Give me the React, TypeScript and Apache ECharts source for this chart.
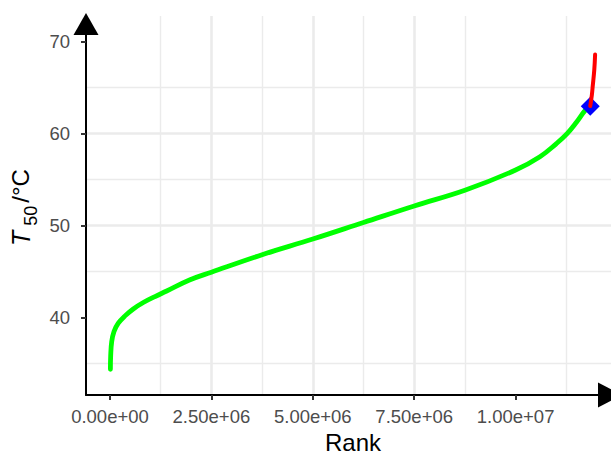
import React, { useEffect, useRef } from "react";
import * as echarts from "echarts";

// ---- data ----
const greenCurve: [number, number][] = [
  [10000, 34.4],
  [17000, 35.9],
  [42000, 37.4],
  [99000, 38.5],
  [205000, 39.4],
  [370000, 40.2],
  [574000, 40.95],
  [821000, 41.65],
  [1109000, 42.3],
  [1398000, 42.9],
  [1960000, 44.1],
  [2500000, 44.95],
  [3750000, 46.85],
  [5000000, 48.55],
  [6250000, 50.35],
  [7500000, 52.15],
  [8750000, 53.85],
  [10000000, 56.05],
  [10600000, 57.5],
  [11000000, 58.9],
  [11270000, 60.0],
  [11510000, 61.3],
  [11710000, 62.5],
  [11840000, 63.0],
];
const redCurve: [number, number][] = [
  [11840000, 63.0],
  [11880000, 64.2],
  [11900000, 65.1],
  [11940000, 66.95],
  [11960000, 68.6],
];
const markerPoint: [number, number][] = [[11840000, 62.98]];

const xTicks = [0, 2500000, 5000000, 7500000, 10000000];
const yTicks = [40, 50, 60, 70];
const xRange = [-591700, 12352000];
const yRange = [31.6, 72.79];

function sci(v: number): string {
  if (v === 0) return "0.00e+00";
  const e = Math.floor(Math.log10(Math.abs(v)) + 1e-9);
  const m = v / Math.pow(10, e);
  return m.toFixed(2) + "e" + (e < 0 ? "-" : "+") + String(Math.abs(e)).padStart(2, "0");
}

const FONT = "'Liberation Sans', Arial, Helvetica, sans-serif";

export default function App() {
  const ref = useRef<HTMLDivElement>(null);
  useEffect(() => {
    if (!ref.current) return;
    const chart = echarts.init(ref.current, null, { renderer: "svg" });
    const axisCommon = {
      type: "value" as const,
      axisLine: {
        show: true,
        onZero: false,
        lineStyle: { color: "#000000", width: 2 },
      },
      axisTick: {
        show: true,
        inside: false,
        length: 5,
        lineStyle: { color: "#333333", width: 2 },
      },
      splitLine: {
        show: true,
        showMinLine: false,
        showMaxLine: false,
        lineStyle: { color: "#EBEBEB", width: 2.6 },
      },
      minorTick: { show: false, splitNumber: 2 },
      minorSplitLine: {
        show: true,
        lineStyle: { color: "#EBEBEB", width: 1.4 },
      },
    };
    chart.setOption({
      animation: false,
      backgroundColor: "#ffffff",
      grid: {
        left: 86,
        right: 0,
        top: 16,
        bottom: 60,
        containLabel: false,
        outerBoundsMode: "none",
      },
      xAxis: {
        ...axisCommon,
        min: xRange[0],
        max: xRange[1],
        minInterval: 2500000,
        maxInterval: 2500000,
        axisLine: {
          ...axisCommon.axisLine,
          symbol: ["none", "triangle"],
          symbolSize: [25, 24],
          symbolOffset: [0, -1],
        },
        axisTick: { ...axisCommon.axisTick, customValues: xTicks },
        axisLabel: {
          customValues: xTicks,
          formatter: (v: number) => sci(v),
          color: "#4D4D4D",
          fontSize: 18.5,
          fontFamily: FONT,
          margin: 12,
        },
        name: "Rank",
        nameLocation: "middle",
        nameGap: 36,
        nameTextStyle: {
          color: "#000000",
          fontSize: 24,
          fontFamily: FONT,
          lineHeight: 20,
          padding: [0, 0, 0, 9],
        },
      },
      yAxis: {
        ...axisCommon,
        min: yRange[0],
        max: yRange[1],
        minInterval: 10,
        maxInterval: 10,
        axisLine: {
          ...axisCommon.axisLine,
          symbol: ["none", "triangle"],
          symbolSize: [25, 22],
          symbolOffset: [0, -8],
        },
        axisTick: { ...axisCommon.axisTick, customValues: yTicks },
        axisLabel: {
          customValues: yTicks,
          color: "#4D4D4D",
          fontSize: 18.5,
          fontFamily: FONT,
          margin: 16,
        },
      },
      graphic: [
        {
          type: "text",
          x: 20.5,
          y: 207.5,
          rotation: Math.PI / 2,
          silent: true,
          style: {
            text: "{t|T}{s|50}{u|/°C}",
            align: "center",
            verticalAlign: "middle",
            fill: "#000000",
            fontFamily: FONT,
            fontSize: 24,
            rich: {
              t: {
                fontStyle: "italic",
                fontSize: 25,
                fontFamily: FONT,
                lineHeight: 38,
                padding: [0, 5, 0, 0],
                fill: "#000000",
              },
              s: {
                fontSize: 18,
                fontFamily: FONT,
                lineHeight: 18,
                verticalAlign: "bottom",
                padding: [0, 3, 0, 0],
                fill: "#000000",
              },
              u: {
                fontSize: 24,
                fontFamily: FONT,
                lineHeight: 38,
                fill: "#000000",
              },
            },
          },
        },
      ],
      series: [
        {
          type: "line",
          data: greenCurve,
          showSymbol: false,
          smooth: 0.4,
          z: 2,
          lineStyle: { color: "#00FF00", width: 4.8, cap: "round", join: "round" },
        },
        {
          type: "scatter",
          data: markerPoint,
          symbol: "diamond",
          symbolSize: 19,
          z: 3,
          itemStyle: { color: "#0000FF", opacity: 1 },
        },
        {
          type: "line",
          data: redCurve,
          showSymbol: false,
          smooth: 0.4,
          z: 4,
          lineStyle: { color: "#FF0000", width: 4, cap: "round", join: "round" },
        },
      ],
    });
    return () => chart.dispose();
  }, []);
  return (
    <div
      ref={ref}
      style={{ position: "fixed", left: 0, top: 0, width: 611, height: 455 }}
    />
  );
}
